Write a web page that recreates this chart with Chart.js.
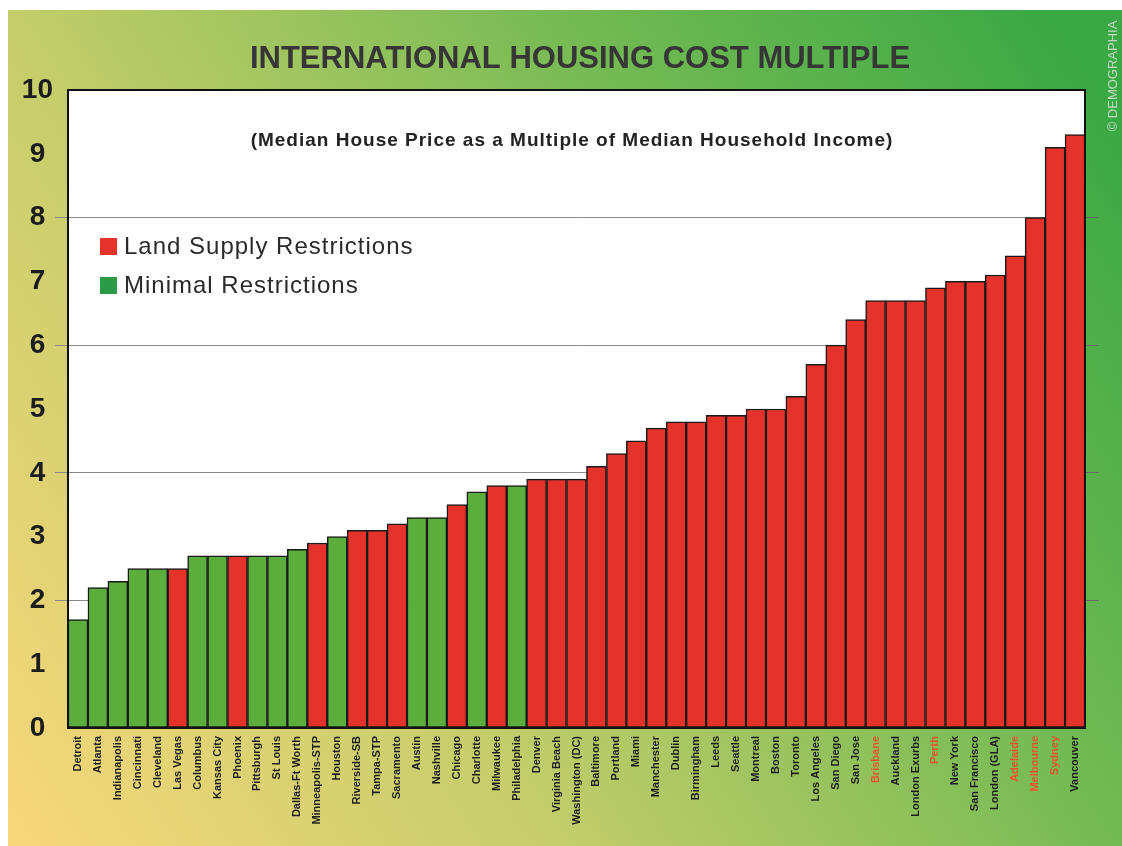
<!DOCTYPE html>
<html><head><meta charset="utf-8">
<script src="https://cdn.jsdelivr.net/npm/chart.js@4.4.0/dist/chart.umd.min.js"></script>
<style>html,body{margin:0;padding:0;background:#fff;}canvas{display:block;}</style>
</head><body>
<canvas id="c" width="1122" height="846"></canvas>
<script>
// ---------- DATA ----------
const categories = ['Detroit','Atlanta','Indianapolis','Cincinnati','Cleveland','Las Vegas','Columbus','Kansas City','Phoenix','Pittsburgh','St Louis','Dallas-Ft Worth','Minneapolis-STP','Houston','Riverside-SB','Tampa-STP','Sacramento','Austin','Nashville','Chicago','Charlotte','Milwaukee','Philadelphia','Denver','Virginia Beach','Washington (DC)','Baltimore','Portland','Miami','Manchester','Dublin','Birmingham','Leeds','Seattle','Montreal','Boston','Toronto','Los Angeles','San Diego','San Jose','Brisbane','Auckland','London Exurbs','Perth','New York','San Francisco','London (GLA)','Adelaide','Melbourne','Sydney','Vancouver'];
const multiples = [1.7,2.2,2.3,2.5,2.5,2.5,2.7,2.7,2.7,2.7,2.7,2.8,2.9,3.0,3.1,3.1,3.2,3.3,3.3,3.5,3.7,3.8,3.8,3.9,3.9,3.9,4.1,4.3,4.5,4.7,4.8,4.8,4.9,4.9,5.0,5.0,5.2,5.7,6.0,6.4,6.7,6.7,6.7,6.9,7.0,7.0,7.1,7.4,8.0,9.1,9.3];
// 1 = Land Supply Restrictions, 0 = Minimal Restrictions
const restricted = [0,0,0,0,0,1,0,0,1,0,0,0,1,0,1,1,1,0,0,1,0,1,0,1,1,1,1,1,1,1,1,1,1,1,1,1,1,1,1,1,1,1,1,1,1,1,1,1,1,1,1];
const highlightedCities = ['Brisbane','Perth','Adelaide','Melbourne','Sydney'];
const seriesNames = ['Land Supply Restrictions','Minimal Restrictions'];
const yMin = 0, yMax = 10, yStep = 1;
const titleText = 'INTERNATIONAL HOUSING COST MULTIPLE';
const subtitleText = '(Median House Price as a Multiple of Median Household Income)';
const creditText = '\u00A9 DEMOGRAPHIA';

// ---------- STYLE ----------
const RED = '#e5322a', GREEN = '#5bae3c';
const LEGEND_RED = '#e5322a', LEGEND_GREEN = '#2b9b47';

const restrictedData = multiples.map((v,i)=> restricted[i] ? v : null);
const minimalData = multiples.map((v,i)=> restricted[i] ? null : v);

const decorPlugin = {
  id:'decor',
  beforeDraw(chart){
    const ctx = chart.ctx, W = chart.width, H = chart.height;
    ctx.save();
    ctx.fillStyle = '#ffffff';
    ctx.fillRect(0,0,W,H);
    const g = ctx.createLinearGradient(0,846,1113,108);
    g.addColorStop(0,'#f9d87c');
    g.addColorStop(0.35,'#c4cd6b');
    g.addColorStop(0.7,'#74ba53');
    g.addColorStop(1,'#3aa845');
    ctx.fillStyle = g;
    ctx.fillRect(8,10,W-8,H-10);
    const a = chart.chartArea;
    ctx.fillStyle = '#ffffff';
    ctx.fillRect(a.left,a.top,a.right-a.left,a.bottom-a.top);
    // title
    ctx.fillStyle = '#363636';
    ctx.font = 'bold 31px "Liberation Sans", Arial, sans-serif';
    ctx.textAlign = 'center';
    ctx.textBaseline = 'middle';
    ctx.fillText(titleText, 580, 59);
    // credit
    ctx.save();
    ctx.translate(1113, 76);
    ctx.rotate(-Math.PI/2);
    ctx.font = '13px "Liberation Sans", Arial, sans-serif';
    ctx.fillStyle = 'rgba(225,232,222,0.8)';
    ctx.fillText(creditText, 0, 0);
    ctx.restore();
    ctx.restore();
  },
  afterDatasetsDraw(chart){
    const ctx = chart.ctx, a = chart.chartArea;
    ctx.save();
    ctx.fillStyle = '#222222';
    ctx.font = 'bold 19px "Liberation Sans", Arial, sans-serif';
    ctx.letterSpacing = '1px';
    ctx.textAlign = 'center';
    ctx.textBaseline = 'middle';
    ctx.fillText(subtitleText, 572, 141);
    // legend
    const cols = [LEGEND_RED, LEGEND_GREEN];
    const ys = [246, 285];
    ctx.font = '24px "Liberation Sans", Arial, sans-serif';
    ctx.letterSpacing = '1px';
    ctx.textAlign = 'left';
    for (let i=0;i<2;i++){
      ctx.fillStyle = cols[i];
      ctx.fillRect(100, ys[i]-8, 17, 17);
      ctx.fillStyle = '#2a2a2a';
      ctx.fillText(seriesNames[i], 124, ys[i]+1);
    }
    ctx.letterSpacing = '0px';
    // border
    ctx.strokeStyle = '#111';
    ctx.lineWidth = 2;
    ctx.strokeRect(a.left, a.top, a.right-a.left, a.bottom-a.top);
    ctx.restore();
  }
};

new Chart(document.getElementById('c'), {
  type:'bar',
  data:{
    labels: categories,
    datasets:[
      {label: seriesNames[0], data: restrictedData, backgroundColor: RED, borderColor:'#1a1a1a', borderWidth:1.5, barPercentage:1, categoryPercentage:1, grouped:false, borderSkipped:false},
      {label: seriesNames[1], data: minimalData, backgroundColor: GREEN, borderColor:'#1a1a1a', borderWidth:1.5, barPercentage:1, categoryPercentage:1, grouped:false, borderSkipped:false}
    ]
  },
  options:{
    responsive:false,
    animation:false,
    layout:{padding:{top:90,right:21,bottom:0,left:0}},
    plugins:{legend:{display:false}, title:{display:false}, tooltip:{enabled:false}},
    scales:{
      x:{
        grid:{display:false},
        border:{display:false},
        ticks:{
          autoSkip:false, minRotation:90, maxRotation:90, padding:0,
          font:{family:'"Liberation Sans Narrow", "Arial Narrow", sans-serif', weight:'bold', size:11},
          color:(c)=> highlightedCities.includes(categories[c.index]) ? '#f0532c' : '#1e1e1e'
        },
        afterFit(s){ s.height = 118; }
      },
      y:{
        min:yMin, max:yMax,
        grid:{
          color:(c)=> (c.tick && c.tick.value % 2 === 0 && c.tick.value>0 && c.tick.value<10) ? '#8a8a8a' : 'rgba(0,0,0,0)',
          lineWidth:1, tickLength:13
        },
        border:{display:false},
        ticks:{
          stepSize:yStep, padding:2, crossAlign:'center',
          font:{family:'"Liberation Sans", Arial, sans-serif', weight:'bold', size:28},
          color:'#1c1c1c'
        },
        afterFit(s){ s.width = 68; }
      },
      y2:{
        position:'right', min:yMin, max:yMax,
        grid:{
          drawOnChartArea:false,
          color:(c)=> (c.tick && c.tick.value % 2 === 0 && c.tick.value>0 && c.tick.value<10) ? '#6a6a6a' : 'rgba(0,0,0,0)',
          tickLength:14
        },
        border:{display:false},
        ticks:{display:false, stepSize:yStep},
        afterFit(s){ s.width = 16; }
      }
    }
  },
  plugins:[decorPlugin]
});
</script>
</body></html>
